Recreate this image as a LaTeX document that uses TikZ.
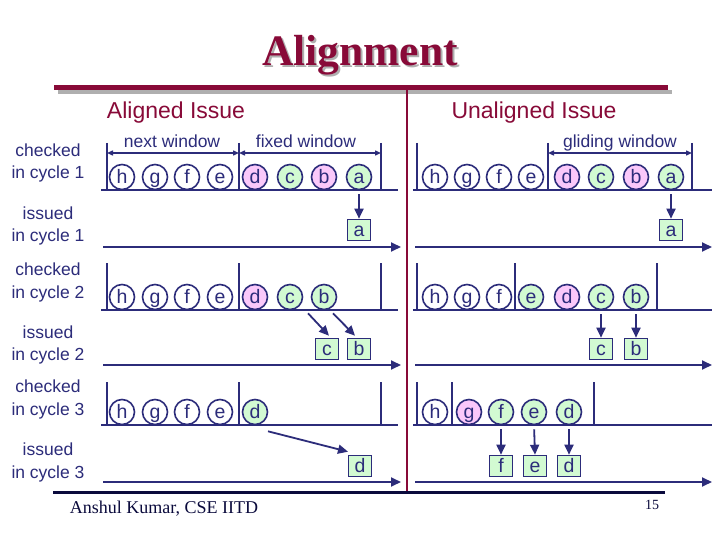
\documentclass[tikz,border=0pt]{standalone}
\usepackage{fontspec}
\setsansfont{Liberation Sans}
\newfontfamily\tms{Liberation Serif}
\usetikzlibrary{arrows.meta,calc}
\definecolor{navy}{RGB}{44,44,122}
\definecolor{maroon}{RGB}{136,10,56}
\definecolor{pk}{RGB}{250,200,250}
\definecolor{gr}{RGB}{210,250,210}
\definecolor{foot}{RGB}{10,10,60}
\definecolor{shd}{RGB}{175,175,175}
\tikzset{
  circ/.style={circle, draw=navy, line width=1.6pt, minimum size=25pt, inner sep=0pt,
    font=\sffamily\fontsize{19.5}{19.5}\selectfont, text=navy, text height=13.6pt, text depth=0pt},
  sq/.style={rectangle, draw=navy, line width=1.6pt, fill=gr, minimum width=23pt, minimum height=21pt, inner sep=0pt,
    font=\sffamily\fontsize{19.5}{19.5}\selectfont, text=navy, text height=13.6pt, text depth=0pt},
  rowline/.style={draw=navy, line width=1.8pt},
  bar/.style={draw=navy, line width=1.8pt},
  arr/.style={draw=navy, line width=1.8pt, -{Triangle[length=10pt,width=9pt]}},
  win/.style={draw=navy, line width=1.4pt, {Triangle[length=6pt,width=5pt]}-{Triangle[length=6pt,width=5pt]}},
  lbl/.style={align=center, font=\sffamily\fontsize{17.5}{22.5}\selectfont, text=navy},
  wlbl/.style={anchor=base, font=\sffamily\fontsize{17.5}{20}\selectfont, text=navy},
  head/.style={anchor=base, font=\sffamily\fontsize{23}{26}\selectfont, text=maroon},
}
\begin{document}
\begin{tikzpicture}[x=1pt,y=-1pt]
\useasboundingbox (0,0) rectangle (720,540);
\fill[white] (0,0) rectangle (720,540);

% title with shadow in one node
\node[anchor=base, font=\tms\bfseries\fontsize{43.5}{46}\selectfont, text=maroon] (title) at (360,66)
  {\makebox[0pt][l]{\kern2pt\raisebox{-2pt}{\textcolor{shd}{Alignment}}}Alignment};
% header rule
\draw[shd, line width=4pt] (58,92) -- (672,92);
\draw[maroon, line width=5pt] (54,88) -- (668,88);
% divider
\draw[maroon, line width=2pt] (407,88) -- (407,493);
% footer rule
\draw[foot, line width=3pt] (53,492) -- (665,492);

\node[head] (ah) at (176,119) {Aligned Issue};
\node[head] (uh) at (534,119) {Unaligned Issue};

% left labels
\node[lbl] (c1) at (48,163) {checked\\in cycle 1};
\node[lbl] (i1) at (48,226) {issued\\in cycle 1};
\node[lbl] (c2) at (48,282.5) {checked\\in cycle 2};
\node[lbl] (i2) at (48,345) {issued\\in cycle 2};
\node[lbl] (c3) at (48,399.5) {checked\\in cycle 3};
\node[lbl] (i3) at (48,462.5) {issued\\in cycle 3};

% window labels and arrows
\node[wlbl] (nw) at (172,148) {next window};
\node[wlbl] (fw) at (306,148) {fixed window};
\node[wlbl] (gw) at (620,148) {gliding window};
\coordinate (w1) at (107,153); \coordinate (w2) at (239,153); \coordinate (w3) at (381,153);
\coordinate (w4) at (548,153); \coordinate (w5) at (692,153);
\draw[win] (w1) -- (w2);
\draw[win] (w2) -- (w3);
\draw[win] (w4) -- (w5);

% ---------- row lines and bars ----------
\foreach \y in {190, 310, 425} {
  \draw[rowline] (101,\y) -- (398,\y);
  \draw[rowline] (413,\y) -- (712,\y);
}
% left bars
\foreach \y/\t in {190/143, 310/263, 425/382}
  \foreach \x in {107,239,381} \draw[bar] (\x,\t) -- (\x,\y);
% right bars
\foreach \x in {417,548,692} \draw[bar] (\x,143) -- (\x,190);
\foreach \x in {417,515,657} \draw[bar] (\x,263) -- (\x,310);
\foreach \x in {417,452,594} \draw[bar] (\x,382) -- (\x,425);

% issue arrows
\foreach \y/\n in {247/1, 365/2, 482/3} {
  \coordinate (la\n) at (103,\y); \coordinate (lb\n) at (401,\y);
  \coordinate (ra\n) at (415,\y); \coordinate (rb\n) at (712,\y);
  \draw[arr] (la\n) -- (lb\n);
  \draw[arr] (ra\n) -- (rb\n);
}

% ---------- left, cycle 1 ----------
\foreach \n/\x/\f in {h/122/white, g/155/white, f/187/white, e/220/white, d/255/pk, c/290/gr, b/324/pk, a/359/gr}
  \node[circ, fill=\f] (L1\n) at (\x,177) {\n};
\node[sq] (L1sa) at (359,230) {a};
\draw[arr, shorten <=4pt] (L1a.south) -- (L1sa.north);

% ---------- left, cycle 2 ----------
\foreach \n/\x/\f in {h/122/white, g/155/white, f/187/white, e/220/white, d/255/pk, c/290/gr, b/324/gr}
  \node[circ, fill=\f] (L2\n) at (\x,297) {\n};
\node[sq] (L2sc) at (327,349) {c};
\node[sq] (L2sb) at (359,349) {b};
\draw[arr] ($(L2c.south)+(18,3)$) -- ($(L2sc.north)+(2,-2)$);
\draw[arr] ($(L2b.south)+(9,3)$) -- ($(L2sb.north)+(-4,-2)$);

% ---------- left, cycle 3 ----------
\foreach \n/\x/\f in {h/122/white, g/155/white, f/187/white, e/220/white, d/255/gr}
  \node[circ, fill=\f] (L3\n) at (\x,412) {\n};
\node[sq] (L3sd) at (360,466) {d};
\draw[arr] ($(L3d.south)+(13,6)$) -- ($(L3sd.north)+(-12,-3)$);

% ---------- right, cycle 1 ----------
\foreach \n/\x/\f in {h/435/white, g/467/white, f/499/white, e/531/white, d/567/pk, c/601/gr, b/636/pk, a/671/gr}
  \node[circ, fill=\f] (R1\n) at (\x,177) {\n};
\node[sq] (R1sa) at (671,230) {a};
\draw[arr, shorten <=4pt] (R1a.south) -- (R1sa.north);

% ---------- right, cycle 2 ----------
\foreach \n/\x/\f in {h/435/white, g/467/white, f/499/white, e/531/gr, d/567/pk, c/601/gr, b/636/gr}
  \node[circ, fill=\f] (R2\n) at (\x,297) {\n};
\node[sq] (R2sc) at (601,349) {c};
\node[sq] (R2sb) at (636,349) {b};
\draw[arr, shorten <=4pt] (R2c.south) -- (R2sc.north);
\draw[arr, shorten <=4pt] (R2b.south) -- (R2sb.north);

% ---------- right, cycle 3 ----------
\foreach \n/\x/\f in {h/435/white, g/469/pk, f/501/gr, e/534/gr, d/569/gr}
  \node[circ, fill=\f] (R3\n) at (\x,412) {\n};
\node[sq] (R3sf) at (501,466) {f};
\node[sq] (R3se) at (535,466) {e};
\node[sq] (R3sd) at (569,466) {d};
\draw[arr, shorten <=4pt] (R3f.south) -- (R3sf.north);
\draw[arr, shorten <=4pt] (R3e.south) -- (R3se.north);
\draw[arr, shorten <=4pt] (R3d.south) -- (R3sd.north);

% footer
\node[anchor=base, font=\tms\fontsize{18}{20}\selectfont, text=foot] (auth) at (164,513) {Anshul Kumar, CSE IITD};
\node[anchor=base, font=\tms\fontsize{14}{16}\selectfont, text=foot] (pg) at (652,509) {15};
\end{tikzpicture}
\end{document}
